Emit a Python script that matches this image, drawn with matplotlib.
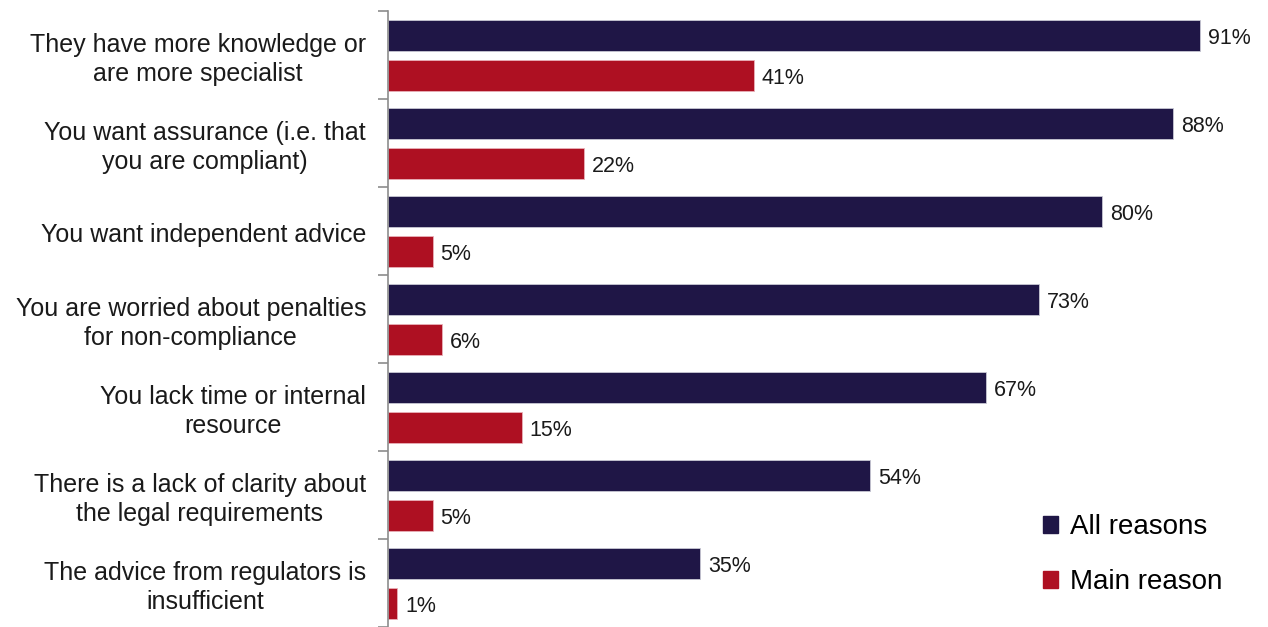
import matplotlib
matplotlib.use("Agg")
import matplotlib.pyplot as plt
from matplotlib.patches import Patch

plt.rcParams['font.family'] = ['Liberation Sans', 'DejaVu Sans']

categories = [
    "They have more knowledge or\nare more specialist",
    "You want assurance (i.e. that\nyou are compliant)",
    "You want independent advice",
    "You are worried about penalties\nfor non-compliance",
    "You lack time or internal\nresource",
    "There is a lack of clarity about\nthe legal requirements",
    "The advice from regulators is\ninsufficient",
]
all_reasons = [91, 88, 80, 73, 67, 54, 35]
main_reason = [41, 22, 5, 6, 15, 5, 1]
series_names = ["All reasons", "Main reason"]

navy = "#1F1646"
red = "#AE1022"

W, H = 1268, 627
fig = plt.figure(figsize=(W / 100, H / 100), dpi=100)
ax = fig.add_axes([388 / W, 0, (W - 388) / W, (H - 11) / H])

bar_h = 0.35
n = len(categories)
pos = list(range(n))
y_all = [p + 0.28 for p in pos]
y_main = [p + 0.735 for p in pos]

ax.barh(y_all, all_reasons, height=bar_h, color=navy, edgecolor="#c8c8d4", linewidth=0.6)
ax.barh(y_main, main_reason, height=bar_h, color=red, edgecolor="#e8b0b8", linewidth=0.6)

for y, v in zip(y_all, all_reasons):
    ax.text(v + 0.9, y + 0.03, f"{v}%", va="center", ha="left", fontsize=15.5, color="#1a1a1a")
for y, v in zip(y_main, main_reason):
    ax.text(v + 0.9, y + 0.03, f"{v}%", va="center", ha="left", fontsize=15.5, color="#1a1a1a")

ax.set_xlim(0, (W - 388) / 8.92)
ax.set_ylim((H - 11) / 88.5, 0)

for spine in ["top", "right", "bottom"]:
    ax.spines[spine].set_visible(False)
ax.spines["left"].set_color("#8c8c8c")
ax.spines["left"].set_linewidth(1.2)
ax.set_xticks([])
ax.set_yticks(range(n + 1))
ax.set_yticklabels([])
ax.tick_params(axis="y", direction="out", length=7, color="#8c8c8c", width=1.2)

for p, label in zip(pos, categories):
    ax.text(-22 / 8.92, p + 0.55, label, ha="right", va="center", multialignment="center",
            fontsize=18, color="#1a1a1a", linespacing=1.28)

handles = [Patch(facecolor=navy, edgecolor=navy), Patch(facecolor=red, edgecolor=red)]
fig.legend(handles, series_names, loc="upper left", bbox_to_anchor=(1032 / W, 1 - 503 / H),
           frameon=False, fontsize=20, handlelength=0.55, handleheight=0.55,
           handletextpad=0.4, labelspacing=1.05, borderaxespad=0)

fig.savefig("out.png", dpi=100)
